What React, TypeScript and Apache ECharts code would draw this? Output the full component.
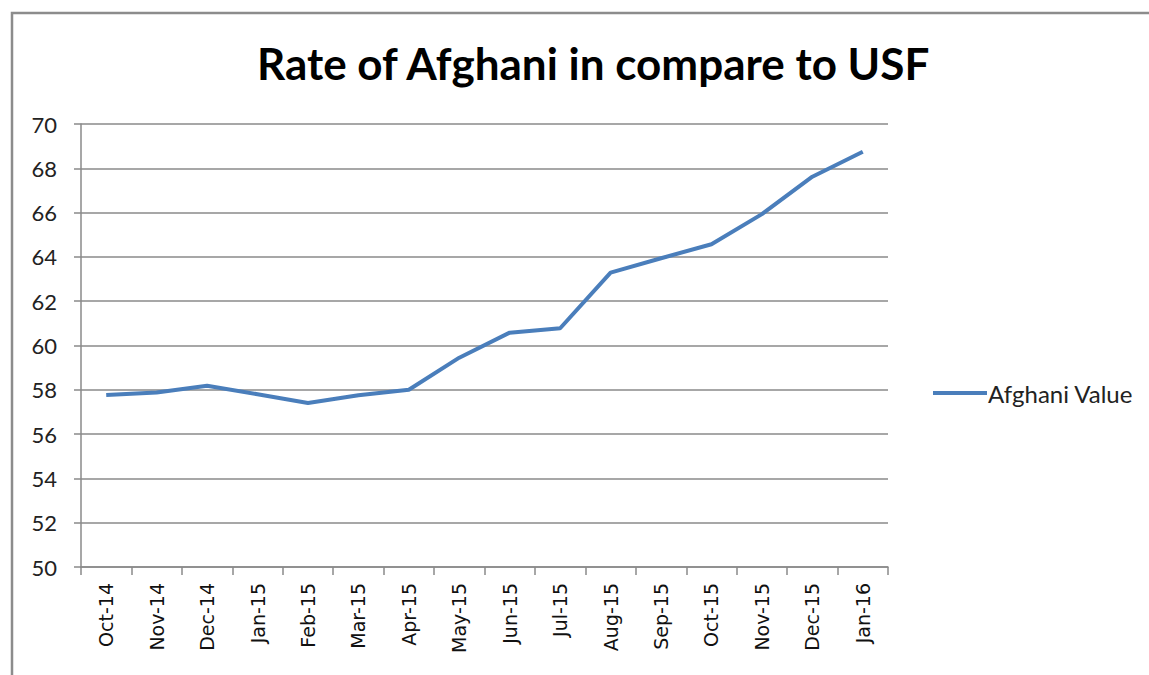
import React, { useEffect, useRef } from "react";
import * as echarts from "echarts";

const categories = ["Oct-14", "Nov-14", "Dec-14", "Jan-15", "Feb-15", "Mar-15", "Apr-15", "May-15", "Jun-15", "Jul-15", "Aug-15", "Sep-15", "Oct-15", "Nov-15", "Dec-15", "Jan-16"];
const afghaniValues = [57.77, 57.88, 58.18, 57.8, 57.4, 57.75, 58.0, 59.45, 60.58, 60.78, 63.29, 63.94, 64.57, 65.93, 67.62, 68.75];
const seriesName = "Afghani Value";
const titleText = "Rate of Afghani in compare to USF";

export default function App() {
  const ref = useRef<HTMLDivElement>(null);
  useEffect(() => {
    document.body.style.margin = "0";
    const chart = echarts.init(ref.current!, null, { renderer: "svg" });
    chart.setOption({
      animation: false,
      backgroundColor: "#ffffff",
      title: {
        text: titleText,
        left: 252,
        top: 36,
        textStyle: { fontFamily: "Lato", fontWeight: "bold", fontSize: 44, color: "#000" },
      },
      graphic: [
        {
          type: "polyline",
          shape: { points: [[12, 700], [12, 13], [1160, 13]] },
          style: { stroke: "#8c8c8c", lineWidth: 2.5, fill: null },
          silent: true,
        },
      ],
      legend: {
        left: 928,
        top: 376,
        icon: "rect",
        itemWidth: 54,
        itemHeight: 4,
        itemGap: 4,
        data: [seriesName],
        textStyle: { fontFamily: "Lato", fontSize: 24, color: "#222", padding: [0, 0, 0, -4] },
      },
      grid: { left: 81, right: 261, top: 124, bottom: 108, containLabel: false },
      xAxis: {
        type: "category",
        data: categories,
        boundaryGap: true,
        axisLine: { lineStyle: { color: "#8a8a8a", width: 1.5 } },
        axisTick: { show: true, length: 8, lineStyle: { color: "#8a8a8a", width: 1.5 } },
        axisLabel: { rotate: 90, interval: 0, margin: 16, fontFamily: "'DejaVu Sans', Verdana, sans-serif", fontSize: 19, color: "#111" },
      },
      yAxis: {
        type: "value",
        min: 50,
        max: 70,
        interval: 2,
        axisLine: { show: true, lineStyle: { color: "#8a8a8a", width: 1.5 } },
        axisTick: { show: true, length: 7, lineStyle: { color: "#8a8a8a", width: 1.5 } },
        axisLabel: { margin: 24, fontFamily: "Lato", fontSize: 22, color: "#222" },
        splitLine: { show: true, lineStyle: { color: "#8a8a8a", width: 1.5 } },
      },
      series: [
        {
          name: seriesName,
          type: "line",
          data: afghaniValues,
          symbol: "none",
          lineStyle: { color: "#4a7ebb", width: 4 },
          itemStyle: { color: "#4a7ebb" },
        },
      ],
    });
    return () => chart.dispose();
  }, []);
  return <div ref={ref} style={{ width: 1149, height: 675 }} />;
}
